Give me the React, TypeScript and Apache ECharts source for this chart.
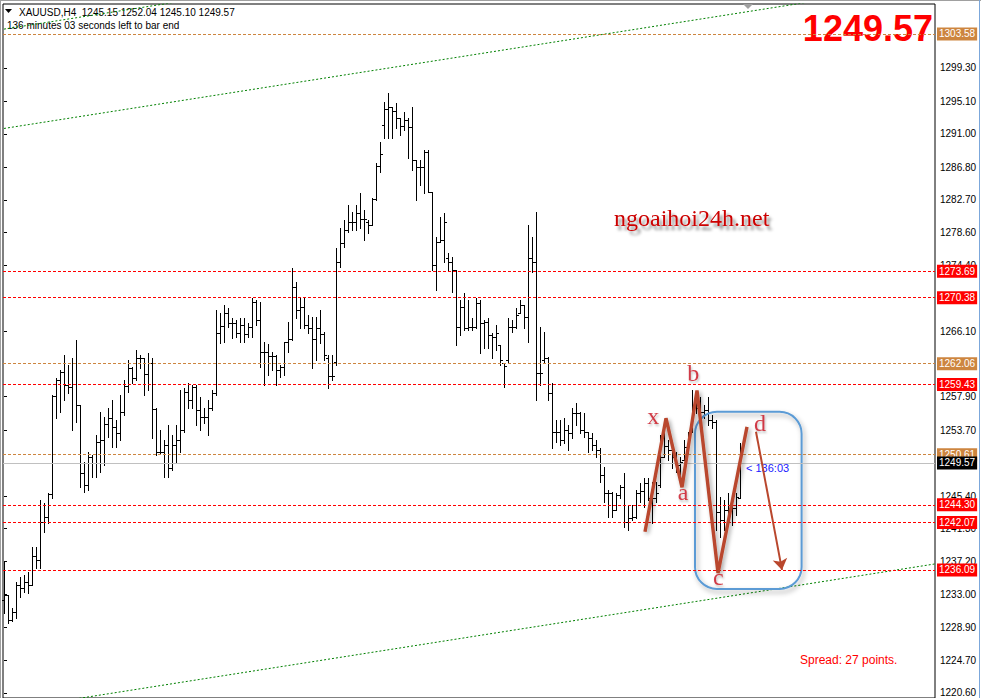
import React, { useEffect, useRef } from "react";
import * as echarts from "echarts";

// XAUUSD H4 bars
const OPEN = [
  1232.3, 1232.9, 1229.8, 1230.8, 1234.2, 1233.8, 1234.6, 1234.2, 1237.8, 1237.3,
  1242.1, 1242.8, 1245.7, 1258.0, 1260.0, 1261.0, 1259.4, 1259.1, 1262.1, 1256.9,
  1248.3, 1246.8, 1250.3, 1249.6, 1252.2, 1252.5, 1254.5, 1255.2, 1254.1, 1253.3,
  1256.0, 1259.3, 1261.5, 1260.3, 1262.8, 1262.8, 1260.8, 1262.1, 1256.4, 1250.9,
  1250.9, 1251.8, 1248.9, 1251.8, 1252.5, 1253.7, 1258.5, 1257.5, 1259.1, 1256.2,
  1255.3, 1255.3, 1256.5, 1258.4, 1265.9, 1266.8, 1268.4, 1267.2, 1267.2, 1265.9,
  1266.9, 1265.8, 1266.7, 1269.8, 1267.6, 1263.5, 1263.5, 1263.0, 1263.0, 1261.3,
  1261.6, 1264.8, 1265.2, 1271.7, 1268.8, 1269.2, 1266.9, 1266.6, 1265.2, 1266.6,
  1265.8, 1262.8, 1260.5, 1262.3, 1274.9, 1277.3, 1278.9, 1279.9, 1279.9, 1281.0,
  1280.3, 1279.9, 1279.5, 1282.8, 1286.9, 1292.1, 1294.1, 1294.4, 1293.9, 1293.0,
  1292.0, 1292.7, 1291.9, 1287.7, 1286.8, 1286.8, 1288.7, 1283.7, 1274.5, 1277.4,
  1277.6, 1275.4, 1274.9, 1273.9, 1266.7, 1269.2, 1266.6, 1266.7, 1266.7, 1269.7,
  1267.2, 1267.3, 1265.7, 1265.4, 1264.4, 1262.1, 1262.5, 1266.7, 1266.7, 1268.4,
  1269.4, 1267.9, 1275.4, 1274.9, 1260.9, 1262.5, 1262.8, 1258.4, 1253.5, 1253.5,
  1252.5, 1253.7, 1253.3, 1255.8, 1255.8, 1253.7, 1253.5, 1252.7, 1251.8, 1251.2,
  1248.0, 1245.8, 1245.8, 1243.6, 1245.5, 1246.5, 1242.1, 1242.6, 1242.8, 1245.8,
  1246.0, 1247.0, 1245.2, 1245.2, 1246.8, 1250.3, 1251.7, 1251.2, 1250.3, 1249.3,
  1249.9, 1251.6, 1253.7, 1256.9, 1256.5, 1256.0, 1256.2, 1255.0, 1254.7, 1243.4,
  1242.4, 1243.6, 1244.3, 1243.9, 1245.15,
];
const HIGH = [
  1237.1, 1232.9, 1231.3, 1234.6, 1235.2, 1235.4, 1235.8, 1239.0, 1239.0, 1244.9,
  1244.5, 1245.8, 1258.1, 1260.3, 1261.3, 1263.2, 1261.9, 1262.8, 1265.0, 1256.9,
  1249.7, 1250.9, 1250.6, 1253.1, 1256.0, 1255.3, 1256.5, 1257.5, 1255.0, 1258.1,
  1260.0, 1262.5, 1261.6, 1263.8, 1263.2, 1262.8, 1263.4, 1262.8, 1256.5, 1253.7,
  1252.5, 1254.3, 1253.1, 1254.3, 1258.7, 1259.0, 1259.6, 1259.4, 1259.4, 1257.9,
  1256.5, 1257.5, 1258.7, 1268.8, 1268.4, 1269.4, 1269.1, 1267.8, 1267.6, 1267.8,
  1267.8, 1267.2, 1270.3, 1270.1, 1269.8, 1264.8, 1264.6, 1263.5, 1263.2, 1261.9,
  1264.8, 1267.3, 1274.1, 1272.3, 1270.3, 1270.3, 1268.2, 1268.0, 1268.0, 1268.8,
  1266.1, 1263.2, 1263.2, 1276.6, 1279.1, 1280.2, 1282.0, 1281.2, 1282.0, 1283.5,
  1281.4, 1280.2, 1282.9, 1287.3, 1290.0, 1295.0, 1296.1, 1294.4, 1294.9, 1293.0,
  1293.7, 1293.0, 1294.4, 1287.7, 1287.7, 1289.0, 1289.0, 1283.7, 1278.0, 1280.5,
  1281.0, 1276.0, 1275.5, 1273.9, 1270.1, 1271.0, 1270.1, 1267.8, 1270.3, 1270.1,
  1267.6, 1267.8, 1265.9, 1266.9, 1264.4, 1262.1, 1267.8, 1267.6, 1269.1, 1270.1,
  1269.4, 1279.5, 1278.0, 1281.1, 1266.7, 1266.1, 1262.9, 1259.6, 1255.0, 1255.0,
  1255.2, 1254.3, 1256.5, 1257.1, 1256.0, 1255.8, 1253.5, 1253.3, 1252.45, 1251.4,
  1249.0, 1246.2, 1245.9, 1245.8, 1246.8, 1248.3, 1244.3, 1244.3, 1246.2, 1247.0,
  1247.7, 1247.7, 1247.2, 1247.2, 1253.1, 1253.7, 1252.45, 1251.6, 1250.9, 1250.3,
  1252.45, 1253.5, 1258.7, 1257.9, 1257.9, 1256.9, 1257.9, 1255.6, 1255.0, 1245.3,
  1244.9, 1245.8, 1244.5, 1245.8, 1252.04,
];
const LOW = [
  1230.7, 1229.4, 1229.7, 1230.0, 1232.7, 1233.3, 1233.2, 1234.2, 1236.3, 1236.3,
  1240.9, 1242.0, 1245.2, 1255.2, 1256.0, 1257.5, 1258.4, 1253.7, 1254.7, 1246.5,
  1245.9, 1246.2, 1247.8, 1247.8, 1248.4, 1249.3, 1252.8, 1251.6, 1251.6, 1252.5,
  1255.6, 1258.5, 1259.6, 1260.0, 1261.5, 1258.1, 1258.7, 1252.7, 1250.6, 1250.8,
  1247.8, 1247.8, 1248.7, 1249.7, 1250.9, 1253.5, 1256.5, 1256.5, 1254.3, 1253.7,
  1254.6, 1253.1, 1256.2, 1258.1, 1264.7, 1264.8, 1266.7, 1265.3, 1265.4, 1264.8,
  1264.8, 1265.4, 1265.4, 1266.9, 1261.6, 1259.4, 1260.6, 1261.3, 1259.4, 1260.4,
  1260.6, 1263.5, 1265.0, 1267.8, 1266.6, 1266.6, 1265.9, 1261.5, 1262.5, 1264.7,
  1262.5, 1259.0, 1260.0, 1261.9, 1274.2, 1276.8, 1278.6, 1278.9, 1278.9, 1279.1,
  1277.6, 1278.5, 1279.5, 1282.7, 1286.2, 1290.5, 1290.5, 1290.5, 1291.7, 1290.9,
  1291.5, 1288.0, 1286.4, 1282.7, 1284.6, 1283.5, 1283.7, 1273.9, 1271.3, 1277.4,
  1274.9, 1273.9, 1271.1, 1264.4, 1265.7, 1266.3, 1266.3, 1266.3, 1266.6, 1263.4,
  1264.0, 1264.0, 1262.8, 1263.8, 1261.9, 1259.1, 1262.1, 1266.0, 1266.6, 1268.4,
  1266.6, 1264.8, 1273.6, 1257.5, 1259.4, 1262.1, 1257.5, 1251.4, 1252.2, 1251.8,
  1252.1, 1251.2, 1252.7, 1254.3, 1253.3, 1252.8, 1250.9, 1251.2, 1250.3, 1247.2,
  1244.6, 1242.8, 1242.8, 1243.6, 1245.2, 1241.5, 1241.1, 1242.4, 1242.6, 1244.6,
  1244.0, 1244.9, 1242.0, 1244.6, 1246.5, 1250.3, 1249.9, 1248.9, 1248.4, 1247.8,
  1249.9, 1250.8, 1253.5, 1255.8, 1255.3, 1255.2, 1254.3, 1254.0, 1241.1, 1240.2,
  1241.1, 1242.4, 1241.7, 1243.0, 1245.10,
];
const CLOSE = [
  1232.9, 1229.8, 1230.8, 1234.2, 1233.8, 1234.6, 1234.2, 1237.8, 1237.3, 1242.1,
  1242.8, 1245.7, 1258.0, 1260.0, 1261.0, 1259.4, 1259.1, 1262.1, 1256.9, 1248.3,
  1246.8, 1250.3, 1249.6, 1252.2, 1252.5, 1254.5, 1255.2, 1254.1, 1253.3, 1256.0,
  1259.3, 1261.5, 1260.3, 1262.8, 1262.8, 1260.8, 1262.1, 1256.4, 1250.9, 1250.9,
  1251.8, 1248.9, 1251.8, 1252.5, 1253.7, 1258.5, 1257.5, 1259.1, 1256.2, 1255.3,
  1255.3, 1256.5, 1258.4, 1265.9, 1266.8, 1268.4, 1267.2, 1267.2, 1265.9, 1266.9,
  1265.8, 1266.7, 1269.8, 1267.6, 1263.5, 1263.5, 1263.0, 1263.0, 1261.3, 1261.6,
  1264.8, 1265.2, 1271.7, 1268.8, 1269.2, 1266.9, 1266.6, 1265.2, 1266.6, 1265.8,
  1263.2, 1260.5, 1260.5, 1274.9, 1277.3, 1278.9, 1279.9, 1279.9, 1281.0, 1280.3,
  1280.3, 1279.5, 1282.8, 1286.9, 1288.5, 1294.1, 1294.4, 1293.9, 1293.0, 1292.0,
  1292.7, 1291.9, 1287.7, 1286.8, 1286.8, 1288.7, 1283.7, 1274.5, 1277.4, 1277.6,
  1279.9, 1274.9, 1273.9, 1266.7, 1269.2, 1266.6, 1266.7, 1266.7, 1269.7, 1267.2,
  1267.3, 1265.7, 1265.4, 1265.9, 1262.5, 1261.8, 1266.7, 1266.7, 1268.2, 1269.4,
  1267.9, 1275.4, 1274.9, 1260.9, 1260.9, 1262.8, 1258.4, 1253.5, 1253.5, 1252.5,
  1253.7, 1253.3, 1255.8, 1255.8, 1253.7, 1253.5, 1252.7, 1251.8, 1251.2, 1248.0,
  1245.8, 1245.8, 1243.6, 1245.5, 1246.5, 1242.1, 1242.6, 1242.8, 1245.8, 1246.0,
  1247.0, 1245.2, 1245.2, 1245.8, 1250.3, 1251.7, 1251.2, 1250.3, 1249.3, 1249.7,
  1251.6, 1253.2, 1256.9, 1256.5, 1256.0, 1256.2, 1255.0, 1254.7, 1243.4, 1242.4,
  1243.6, 1244.3, 1243.9, 1245.3, 1249.57,
];

// Price scale tick labels that are visible in the picture
const Y_TICKS = [
  1220.6, 1224.7, 1228.9, 1233.0, 1237.2, 1241.3, 1245.4, 1253.7, 1257.9,
  1266.1, 1274.4, 1278.6, 1282.7, 1286.8, 1291.0, 1295.1, 1299.3,
];

// Horizontal levels
const LEVEL_PRICES = [1303.58, 1273.69, 1270.38, 1262.06, 1259.43, 1250.61, 1244.3, 1242.07, 1236.09];
const LEVEL_KINDS = ["orange", "red", "red", "orange", "red", "orange", "red", "red", "red"];
const BID = 1249.57;

// Trend channel lines (bar index, price)
const TREND_UPPER = [[0, 1291.68], [232.75, 1310.09]];
const TREND_LOWER = [[0, 1218.44], [232.75, 1236.85]];
const TREND_TOP = [[0, 1304.19], [60, 1308.93]];

// Harmonic pattern drawing
const PATTERN_X = [160.25, 165.5, 169.5, 173.25, 178.5, 185.75];
const PATTERN_Y = [1240.9, 1255.2, 1246.5, 1258.7, 1235.7, 1254.1];
const ARROW_FROM = [188, 1253.5];
const ARROW_TO = [194.5, 1236.1];
const BOX_CORNERS = [172.75, 1256.0, 199.4, 1233.7];
const POINT_NAMES = ["x", "a", "b", "c", "d"];
const POINT_X = [162.3, 169.8, 172.3, 178.6, 189.0];
const POINT_Y = [1255.45, 1245.9, 1260.9, 1235.2, 1254.6];

const SANS = '"Liberation Sans", Arial, sans-serif';
const SERIF = '"Liberation Serif", "Times New Roman", serif';
const KIND_COLOR: Record<string, string> = { orange: "#CD853F", red: "#FF0000" };
const PATTERN_COLOR = "#B9472D";

export default function App() {
  const ref = useRef<HTMLDivElement>(null);

  useEffect(() => {
    if (!ref.current) return;
    const chart = echarts.init(ref.current, undefined, { renderer: "svg" });

    const bars = OPEN.map((o, i) => [i, o, HIGH[i], LOW[i], CLOSE[i]]);

    const levelLines: any[] = LEVEL_PRICES.map((p, k) => ({
      yAxis: p,
      lineStyle: { color: KIND_COLOR[LEVEL_KINDS[k]], type: [3, 2], width: 1 },
      label: { backgroundColor: KIND_COLOR[LEVEL_KINDS[k]] },
    }));
    levelLines.push({
      yAxis: BID,
      lineStyle: { color: "#C0C0C0", type: "solid", width: 1 },
      label: { backgroundColor: "#000" },
    });

    const trendSeries = [TREND_UPPER, TREND_LOWER, TREND_TOP].map((d) => ({
      type: "line",
      data: d,
      showSymbol: false,
      silent: true,
      clip: true,
      z: 2,
      lineStyle: { color: "#008000", width: 1, type: [2, 2] },
    }));

    const option: any = {
      animation: false,
      backgroundColor: "#ffffff",
      grid: {
        left: 3,
        top: 4,
        width: 932,
        height: 694,
        show: true,
        borderColor: "#000",
        borderWidth: 1,
        backgroundColor: "transparent",
      },
      xAxis: { type: "value", min: -0.25, max: 232.75, show: false },
      yAxis: {
        type: "value",
        position: "right",
        min: 1219.97,
        max: 1307.35,
        splitLine: { show: false },
        axisLine: { show: false },
        axisTick: { show: true, customValues: Y_TICKS, length: 3, lineStyle: { color: "#000" } },
        axisLabel: {
          customValues: Y_TICKS,
          formatter: (v: number) => v.toFixed(2),
          margin: 5,
          color: "#000",
          fontSize: 10,
          fontFamily: SANS,
        },
      },
      series: [
        {
          name: "levels",
          type: "line",
          data: [[-10, BID]],
          showSymbol: false,
          silent: true,
          z: 1,
          markLine: {
            silent: true,
            symbol: ["none", "none"],
            precision: 2,
            label: {
              show: true,
              position: "end",
              distance: 2,
              formatter: (p: any) => Number(p.value).toFixed(2),
              color: "#fff",
              fontSize: 10,
              fontFamily: SANS,
              padding: [2, 2, 1, 2],
            },
            data: levelLines,
          },
        },
        ...trendSeries,
        {
          name: "XAUUSD",
          type: "custom",
          z: 3,
          data: bars,
          encode: { x: 0, y: [1, 2, 3, 4] },
          renderItem: (_params: any, api: any) => {
            const i = api.value(0);
            const o = api.coord([i, api.value(1)]);
            const h = api.coord([i, api.value(2)]);
            const l = api.coord([i, api.value(3)]);
            const c = api.coord([i, api.value(4)]);
            const cx = Math.round(o[0]);
            const style = { stroke: "#000", lineWidth: 1, fill: "none" };
            const oy = Math.round(o[1]) + 0.5;
            const cy = Math.round(c[1]) + 0.5;
            return {
              type: "group",
              children: [
                {
                  type: "line",
                  shape: { x1: cx + 0.5, y1: Math.round(h[1]), x2: cx + 0.5, y2: Math.round(l[1]) + 1 },
                  style,
                },
                { type: "line", shape: { x1: cx - 2, y1: oy, x2: cx, y2: oy }, style },
                { type: "line", shape: { x1: cx + 1, y1: cy, x2: cx + 3, y2: cy }, style },
              ],
            };
          },
        },
        {
          name: "box",
          type: "custom",
          z: 4,
          silent: true,
          data: [BOX_CORNERS],
          encode: { x: [0, 2], y: [1, 3] },
          renderItem: (_params: any, api: any) => {
            const p0 = api.coord([api.value(0), api.value(1)]);
            const p1 = api.coord([api.value(2), api.value(3)]);
            return {
              type: "rect",
              shape: { x: p0[0], y: p0[1], width: p1[0] - p0[0], height: p1[1] - p0[1], r: 22 },
              style: {
                fill: "none",
                stroke: "#5B9BD5",
                lineWidth: 2,
                shadowBlur: 5,
                shadowColor: "rgba(0,0,0,0.35)",
                shadowOffsetX: 2,
                shadowOffsetY: 3,
              },
            };
          },
        },
        {
          name: "pattern",
          type: "line",
          z: 5,
          silent: true,
          showSymbol: false,
          data: PATTERN_X.map((x, k) => [x, PATTERN_Y[k]]),
          lineStyle: {
            color: PATTERN_COLOR,
            width: 3.4,
            shadowBlur: 4,
            shadowColor: "rgba(0,0,0,0.35)",
            shadowOffsetX: 2,
            shadowOffsetY: 2,
          },
          markLine: {
            silent: true,
            symbol: ["none", "arrow"],
            symbolSize: 11,
            label: { show: false },
            lineStyle: { color: PATTERN_COLOR, width: 2, type: "solid" },
            data: [[{ coord: ARROW_FROM }, { coord: ARROW_TO }]],
          },
        },
        {
          name: "points",
          type: "scatter",
          z: 6,
          silent: true,
          symbolSize: 1,
          itemStyle: { color: "rgba(0,0,0,0)" },
          data: POINT_NAMES.map((n, k) => ({ name: n, value: [POINT_X[k], POINT_Y[k]] })),
          label: {
            show: true,
            position: "inside",
            formatter: (p: any) => p.name,
            color: "#C8141E",
            fontSize: 24,
            fontFamily: SERIF,
            textShadowColor: "rgba(0,0,0,0.3)",
            textShadowBlur: 2,
            textShadowOffsetX: 1,
            textShadowOffsetY: 2,
          },
        },
      ],
      graphic: [
        { type: "line", shape: { x1: 0, y1: 0.5, x2: 981, y2: 0.5 }, style: { stroke: "#A0A0A0", lineWidth: 1 } },
        { type: "line", shape: { x1: 0.5, y1: 0, x2: 0.5, y2: 698 }, style: { stroke: "#A0A0A0", lineWidth: 1 } },
        { type: "line", shape: { x1: 979.5, y1: 0, x2: 979.5, y2: 698 }, style: { stroke: "#7BA7DB", lineWidth: 1 } },
        { type: "polygon", shape: { points: [[743, 4], [753, 4], [748, 9]] }, style: { fill: "#A0A0A0" } },
        { type: "polygon", shape: { points: [[5, 9], [12, 9], [8.5, 13]] }, style: { fill: "#000" } },
        {
          type: "text",
          x: 19,
          y: 12,
          style: {
            text: "XAUUSD,H4  1245.15 1252.04 1245.10 1249.57",
            fill: "#000",
            font: `10px ${SANS}`,
            verticalAlign: "middle",
          },
        },
        {
          type: "text",
          x: 7,
          y: 25,
          style: { text: "136 minutes 03 seconds left to bar end", fill: "#000", font: `10px ${SANS}`, verticalAlign: "middle" },
        },
        {
          type: "text",
          x: 933,
          y: 28,
          style: {
            text: "1249.57",
            fill: "#FF0000",
            font: `bold 36px ${SANS}`,
            align: "right",
            verticalAlign: "middle",
          },
        },
        {
          type: "text",
          x: 614,
          y: 218,
          style: {
            text: "ngoaihoi24h.net",
            fill: "#CC0000",
            font: `24px ${SERIF}`,
            verticalAlign: "middle",
            textShadowColor: "rgba(0,0,0,0.45)",
            textShadowBlur: 3,
            textShadowOffsetX: 3,
            textShadowOffsetY: 4,
          },
        },
        {
          type: "text",
          x: 746,
          y: 468,
          style: { text: "< 136:03", fill: "#2020FF", font: `11px ${SANS}`, verticalAlign: "middle" },
        },
        {
          type: "text",
          x: 800,
          y: 660,
          style: { text: "Spread: 27 points.", fill: "#FF0000", font: `12px ${SANS}`, verticalAlign: "middle" },
        },
      ],
    };

    chart.setOption(option);
    return () => chart.dispose();
  }, []);

  return (
    <div
      ref={ref}
      style={{ position: "fixed", left: 0, top: 0, width: 981, height: 698, background: "#fff" }}
    />
  );
}
